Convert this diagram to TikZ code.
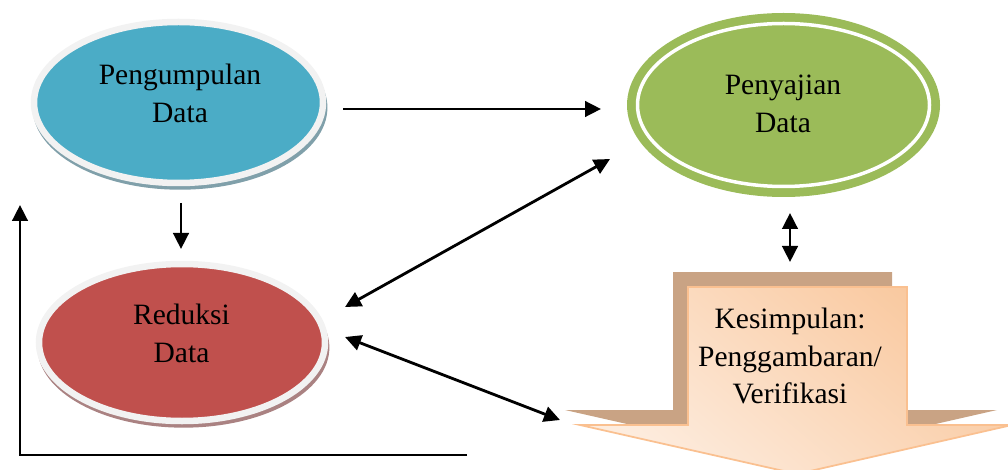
\documentclass[tikz,border=0pt]{standalone}
\usepackage{fontspec}
\setmainfont{Liberation Serif}
\usetikzlibrary{positioning, arrows.meta, shapes.geometric, shadows}

\definecolor{pengblue}{RGB}{75,172,198}
\definecolor{redred}{RGB}{192,80,77}
\definecolor{sajigreen}{RGB}{155,187,89}
\definecolor{ringgray}{RGB}{242,242,242}
\definecolor{blueshade}{RGB}{128,160,170}
\definecolor{redshade}{RGB}{170,130,130}
\definecolor{kesshadow}{RGB}{201,163,132}
\definecolor{peachlight}{RGB}{253,236,222}
\definecolor{peachdark}{RGB}{249,200,158}
\definecolor{kesborder}{RGB}{250,192,144}

\tikzset{
  ring/.style={ellipse, inner sep=0pt, draw=ringgray, line width=0.13cm},
  lbl/.style={align=center, font=\fontsize{16.8}{21.6}\selectfont},
  arr/.style={-{Triangle[length=0.32cm, width=0.31cm]}, line width=1.6pt},
  darr/.style={{Triangle[length=0.32cm, width=0.31cm]}-{Triangle[length=0.32cm, width=0.31cm]}, line width=1.6pt},
}

\begin{document}
\begin{tikzpicture}
    \useasboundingbox (0,0) rectangle (20.16,9.38);
    \clip (0,0) rectangle (20.16,9.38);

    % Pengumpulan Data
    \node[ring, fill=pengblue, minimum width=5.78cm, minimum height=3.22cm,
          drop shadow={shadow xshift=0.03cm, shadow yshift=-0.1cm, shadow scale=1.02, fill=blueshade, opacity=1}]
          (peng) at (3.57,7.33) {};
    \node[lbl] (pengtext) at (3.60,7.51) {Pengumpulan\\Data};

    % Reduksi Data
    \node[ring, fill=redred, minimum width=5.72cm, minimum height=3.14cm,
          drop shadow={shadow xshift=0.03cm, shadow yshift=-0.1cm, shadow scale=1.02, fill=redshade, opacity=1}]
          (red) at (3.64,2.53) {};
    \node[lbl] (redtext) at (3.63,2.72) {Reduksi\\Data};

    % Penyajian Data
    \node[ellipse, inner sep=0pt, fill=sajigreen, minimum width=6.26cm, minimum height=3.68cm] (saji) at (15.67,7.28) {};
    \draw[white, line width=0.07cm] (saji.center) ellipse (2.92 and 1.63);
    \node[lbl] (sajitext) at (15.66,7.30) {Penyajian\\Data};

    % Kesimpulan (block arrow)
    \fill[kesshadow] (13.46,3.94) -- (17.84,3.94) -- (17.84,1.18) -- (19.94,1.18)
        -- (15.64,0.20) -- (11.30,1.18) -- (13.46,1.18) -- cycle;
    \shade[top color=peachdark, bottom color=peachlight, shading angle=-40]
        (13.76,3.64) -- (18.14,3.64) -- (18.14,0.88) -- (20.24,0.88)
        -- (15.94,-0.10) -- (11.60,0.88) -- (13.76,0.88) -- cycle;
    \draw[kesborder, line width=1pt] (13.76,3.64) -- (18.14,3.64) -- (18.14,0.88) -- (20.24,0.88)
        -- (15.94,-0.10) -- (11.60,0.88) -- (13.76,0.88) -- cycle;
    \node[lbl] (kes) at (15.80,2.26) {Kesimpulan:\\Penggambaran/\\Verifikasi};

    % Arrow ends
    \coordinate (pengR) at (6.86,7.20);
    \coordinate (sajiL) at (12.02,7.20);
    \coordinate (pengB) at (3.62,5.32);
    \coordinate (redT) at (3.62,4.40);
    \coordinate (redR1) at (6.90,3.24);
    \coordinate (sajiLB) at (12.20,6.20);
    \coordinate (redR2) at (6.90,2.64);
    \coordinate (kesL) at (11.20,0.98);
    \coordinate (sajiB) at (15.80,5.12);
    \coordinate (kesT) at (15.80,4.14);
    \coordinate (loopA) at (9.34,0.28);
    \coordinate (loopB) at (0.40,0.28);
    \coordinate (loopC) at (0.40,5.28);

    % Connectors
    \draw[arr] (pengR) -- (sajiL);
    \draw[arr] (pengB) -- (redT);
    \draw[darr] (redR1) -- (sajiLB);
    \draw[darr] (redR2) -- (kesL);
    \draw[darr] (sajiB) -- (kesT);
    \draw[arr] (loopA) -- (loopB) -- (loopC);
\end{tikzpicture}
\end{document}
